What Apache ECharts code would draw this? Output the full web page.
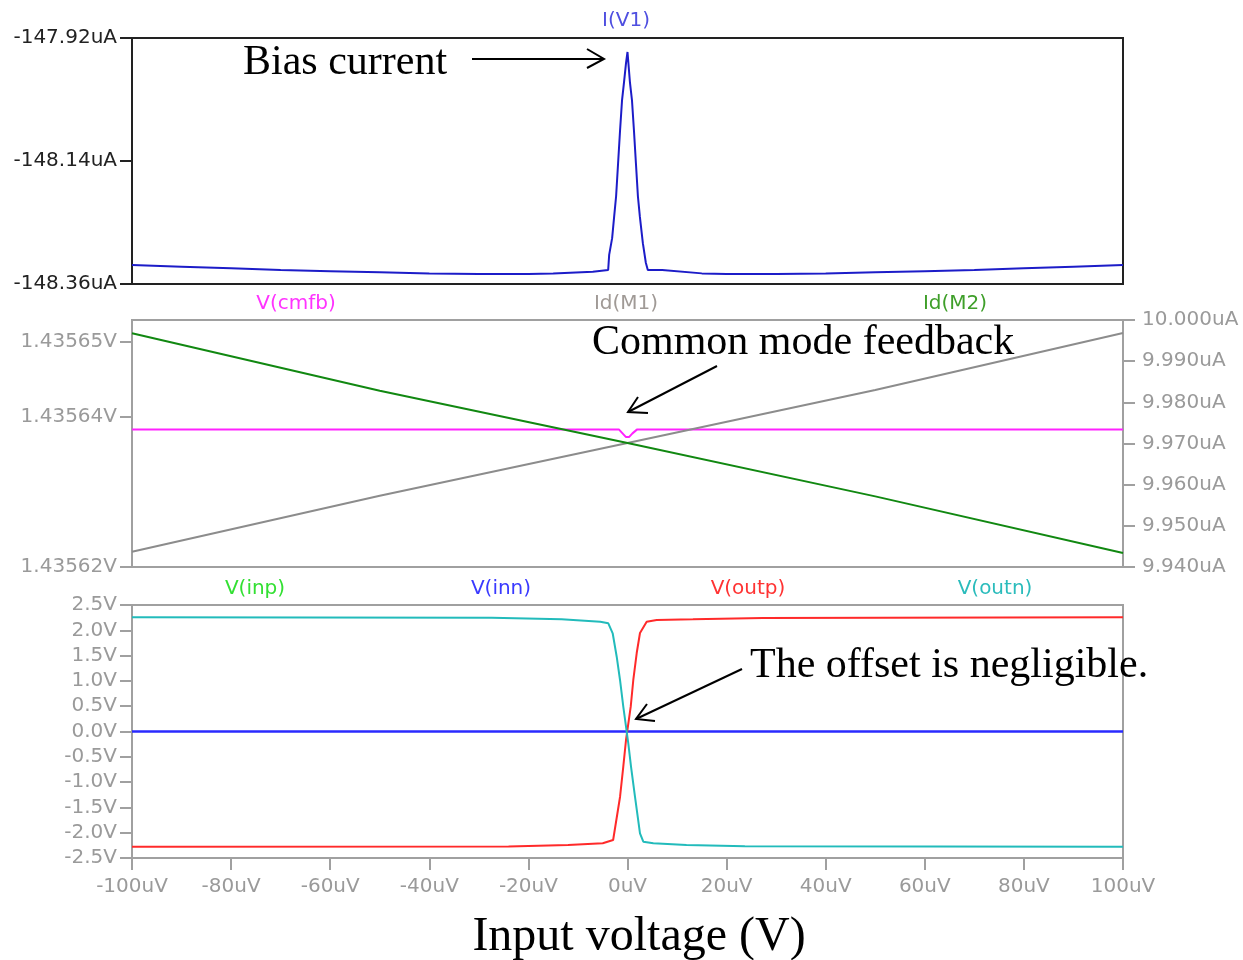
<!DOCTYPE html>
<html>
<head>
<meta charset="utf-8">
<script src="https://cdn.jsdelivr.net/npm/echarts@6.0.0/dist/echarts.min.js"></script>
<style>
  html, body { margin: 0; padding: 0; background: #fff; }
  #chart { width: 1243px; height: 960px; }
</style>
</head>
<body>
<div id="chart"></div>
<script>
// sweep range, uV
const xMin = -100;
const xMax = 100;

// tick labels
const biasTicks = [-148.36, -148.14, -147.92];
const cmfbTicks = [1.43562, 1.43564, 1.43565];

// I(V1), uA
const iV1 = [
  [-100, -148.326], [-90, -148.329], [-80, -148.332], [-70, -148.335], [-60, -148.337],
  [-50, -148.339], [-40, -148.341], [-30, -148.342], [-20, -148.342], [-15, -148.341],
  [-7, -148.338], [-6.8, -148.335], [-3.9, -148.335], [-3.7, -148.308], [-3.1, -148.278],
  [-2.7, -148.240], [-2.3, -148.203], [-1.9, -148.144], [-1.5, -148.085], [-1.1, -148.031],
  [-0.7, -147.999], [-0.3, -147.965], [0, -147.945], [0.5, -148.0], [0.9, -148.031],
  [1.3, -148.085], [1.7, -148.144], [2.1, -148.203], [2.5, -148.240], [3.1, -148.287],
  [3.7, -148.322], [4.1, -148.335], [7, -148.335], [7.2, -148.338], [15, -148.341],
  [20, -148.342], [30, -148.342], [40, -148.341], [50, -148.339], [60, -148.337],
  [70, -148.335], [80, -148.332], [90, -148.329], [100, -148.326]
];

// V(cmfb), V
const vCmfb = [
  [-100, 1.4356383], [-1.7, 1.4356383], [-1, 1.4356378], [-0.3, 1.4356373],
  [0.3, 1.4356373], [1, 1.4356378], [1.9, 1.4356383], [100, 1.4356383]
];
// Id(M1), Id(M2), uA
const idM1 = [[-100, 9.94372], [-50, 9.95730], [0, 9.97012], [50, 9.98299], [100, 9.99684]];
const idM2 = [[-100, 9.99676], [-50, 9.98283], [0, 9.97012], [50, 9.95716], [100, 9.94340]];

// bottom panel, V
const vInp = [[-100, -0.00005], [100, 0.00005]];
const vInn = [[-100, 0.00005], [100, -0.00005]];
const vOutp = [
  [-100, -2.277], [-24, -2.272], [-12, -2.245], [-5, -2.21], [-2.9, -2.144],
  [-1.5, -1.289], [-0.85, -0.696], [-0.3, -0.168], [0.65, 0.490], [1.17, 1.018],
  [1.86, 1.551], [2.52, 1.947], [3.87, 2.170], [5.89, 2.204], [13.2, 2.217],
  [27.3, 2.245], [100, 2.257]
];
const vOutn = [
  [-100, 2.257], [-27.4, 2.250], [-13.3, 2.217], [-5.5, 2.17], [-3.87, 2.138],
  [-2.99, 1.941], [-2.18, 1.478], [-1.51, 1.018], [-0.85, 0.490], [-0.3, 0.095],
  [0.16, -0.233], [0.71, -0.696], [1.51, -1.289], [2.52, -2.012], [3.19, -2.178],
  [5.21, -2.210], [11.9, -2.243], [23.7, -2.270], [100, -2.277]
];

const sans = '"DejaVu Sans", sans-serif';
const serif = '"Liberation Serif", "Times New Roman", serif';
const grayText = '#9a9a9a';
const grayLine = '#a0a0a0';

const chart = echarts.init(document.getElementById('chart'));

const hiddenX = (gridIndex) => ({
  type: 'value', gridIndex, min: xMin, max: xMax, show: false
});

const line = (name, data, color, xAxisIndex, yAxisIndex, width = 2) => ({
  name, type: 'line', data, xAxisIndex, yAxisIndex,
  showSymbol: false, symbol: 'none', smooth: false,
  lineStyle: { color, width },
  emphasis: { disabled: true },
  z: 3
});

const label = (text, x, y, fill) => ({
  type: 'text', x, y,
  style: { text, fill, font: '20px ' + sans, textAlign: 'center', textVerticalAlign: 'middle' }
});

const note = (text, x, y, size) => ({
  type: 'text', x, y,
  style: { text, fill: '#000', font: size + 'px ' + serif, textAlign: 'left', textVerticalAlign: 'middle' }
});

const arrow = (points) => ({
  type: 'polyline', shape: { points },
  style: { stroke: '#000', lineWidth: 2, fill: null }
});

chart.setOption({
  animation: false,
  backgroundColor: '#fff',
  grid: [
    { left: 132, top: 38, width: 991, height: 246, show: true, borderColor: '#222', borderWidth: 2 },
    { left: 132, top: 320, width: 991, height: 247, show: true, borderColor: grayLine, borderWidth: 2 },
    { left: 132, top: 605, width: 991, height: 253, show: true, borderColor: grayLine, borderWidth: 2 }
  ],
  xAxis: [
    hiddenX(0),
    hiddenX(1),
    {
      type: 'value', gridIndex: 2, min: xMin, max: xMax, interval: 20,
      axisLine: { show: false, onZero: false },
      axisTick: { length: 12, lineStyle: { color: grayLine, width: 2 } },
      axisLabel: { margin: 19, color: grayText, fontSize: 20, fontFamily: sans, formatter: (v) => v + 'uV' },
      splitLine: { show: false }
    }
  ],
  yAxis: [
    {
      type: 'value', gridIndex: 0, min: -148.36, max: -147.92,
      axisLine: { show: false, onZero: false },
      axisTick: { length: 12, lineStyle: { color: '#222', width: 2 }, customValues: biasTicks },
      axisLabel: { margin: 15, color: '#222', fontSize: 20, fontFamily: sans,
        customValues: biasTicks, formatter: (v) => v.toFixed(2) + 'uA' },
      splitLine: { show: false }
    },
    {
      type: 'value', gridIndex: 1, min: 1.43562, max: 1.4356529,
      axisLine: { show: false, onZero: false },
      axisTick: { length: 12, lineStyle: { color: grayLine, width: 2 }, customValues: cmfbTicks },
      axisLabel: { margin: 15, color: grayText, fontSize: 20, fontFamily: sans,
        customValues: cmfbTicks, formatter: (v) => v.toFixed(5) + 'V' },
      splitLine: { show: false }
    },
    {
      type: 'value', gridIndex: 1, position: 'right', min: 9.94, max: 10.0, interval: 0.01,
      axisLine: { show: false, onZero: false },
      axisTick: { length: 12, lineStyle: { color: grayLine, width: 2 } },
      axisLabel: { margin: 19, color: grayText, fontSize: 20, fontFamily: sans,
        formatter: (v) => v.toFixed(3) + 'uA' },
      splitLine: { show: false }
    },
    {
      type: 'value', gridIndex: 2, min: -2.5, max: 2.5, interval: 0.5,
      axisLine: { show: false, onZero: false },
      axisTick: { length: 12, lineStyle: { color: grayLine, width: 2 } },
      axisLabel: { margin: 15, color: grayText, fontSize: 20, fontFamily: sans,
        formatter: (v) => v.toFixed(1) + 'V' },
      splitLine: { show: false }
    }
  ],
  series: [
    line('I(V1)', iV1, '#1c1cc8', 0, 0),
    line('V(cmfb)', vCmfb, '#ff22ff', 1, 1),
    line('Id(M1)', idM1, '#8c8c8c', 1, 2),
    line('Id(M2)', idM2, '#118811', 1, 2),
    line('V(inp)', vInp, '#22dd22', 2, 3, 1),
    line('V(inn)', vInn, '#2a2aff', 2, 3, 2.5),
    line('V(outp)', vOutp, '#ff2a2a', 2, 3),
    line('V(outn)', vOutn, '#22bbbb', 2, 3)
  ],
  graphic: [
    label('I(V1)', 626, 21, '#4f4fe0'),
    label('V(cmfb)', 296, 304, '#ff33ff'),
    label('Id(M1)', 626, 304, '#a09a96'),
    label('Id(M2)', 955, 304, '#3f9f2a'),
    label('V(inp)', 255, 589, '#33e033'),
    label('V(inn)', 501, 589, '#3a3aff'),
    label('V(outp)', 748, 589, '#ff3333'),
    label('V(outn)', 995, 589, '#2bbcbc'),
    note('Bias current', 243, 63, 42),
    note('Common mode feedback', 592, 343, 42),
    note('The offset is negligible.', 750, 666, 42),
    { type: 'text', x: 639, y: 937,
      style: { text: 'Input voltage (V)', fill: '#000', font: '48px ' + serif,
        textAlign: 'center', textVerticalAlign: 'middle' } },
    arrow([[472, 59], [604, 59]]),
    arrow([[587, 49], [604, 59], [587, 68]]),
    arrow([[717, 366], [628, 412]]),
    arrow([[638, 397], [628, 412], [648, 413]]),
    arrow([[742, 669], [636, 719]]),
    arrow([[647, 704], [636, 719], [655, 721]])
  ]
});
</script>
</body>
</html>
